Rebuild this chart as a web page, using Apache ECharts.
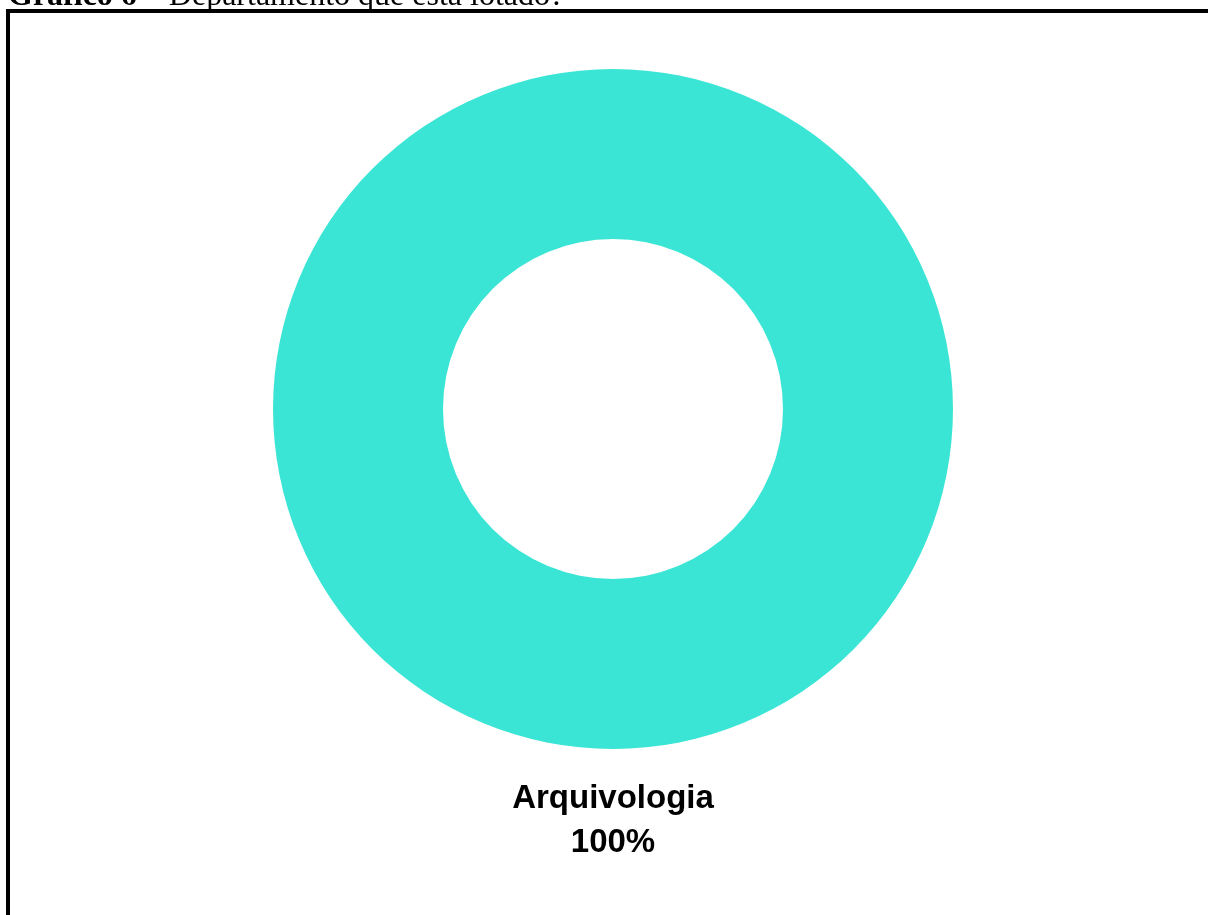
<!DOCTYPE html>
<html>
<head>
<meta charset="utf-8">
<script src="https://cdn.jsdelivr.net/npm/echarts@6/dist/echarts.min.js"></script>
<style>
html,body{margin:0;padding:0;background:#fff;}
#chart{width:1208px;height:915px;}
</style>
</head>
<body>
<div id="chart"></div>
<script>
const titleBold = 'Gráfico 6';
const titleRest = ' – Departamento que está lotado?';
const categories = ['Arquivologia'];
const values = [100];
const colors = ['#3BE5D5'];

const chart = echarts.init(document.getElementById('chart'));
chart.setOption({
  animation: false,
  backgroundColor: '#ffffff',
  graphic: [
    {
      type: 'rect',
      shape: { x: 8, y: 11, width: 1400, height: 1200 },
      style: { fill: 'none', stroke: '#000', lineWidth: 4 }
    },
    {
      type: 'text',
      left: 8,
      top: -19,
      style: {
        text: '{b|' + titleBold + '}{r|' + titleRest + '}',
        rich: {
          b: { fontFamily: 'Liberation Serif', fontWeight: 'bold', fontSize: 32, fill: '#000' },
          r: { fontFamily: 'Liberation Serif', fontSize: 32, fill: '#000' }
        }
      }
    }
  ],
  series: [{
    type: 'pie',
    center: [613, 409],
    radius: [170, 340],
    silent: true,
    label: {
      show: true,
      position: 'center',
      offset: [0, 412],
      formatter: '{b}\n{d}%',
      fontFamily: 'Liberation Sans',
      fontWeight: 'bold',
      fontSize: 33,
      lineHeight: 44,
      color: '#000'
    },
    labelLine: { show: false },
    itemStyle: { borderWidth: 0 },
    data: categories.map((c, i) => ({ name: c, value: values[i], itemStyle: { color: colors[i] } }))
  }]
});
</script>
</body>
</html>
